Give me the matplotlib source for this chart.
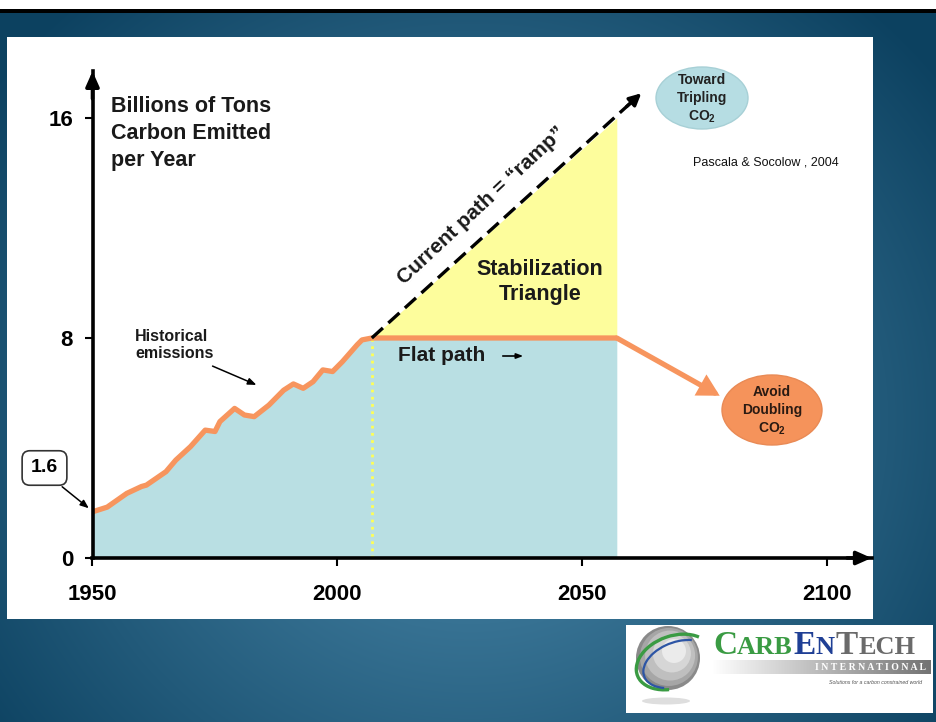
import numpy as np
import matplotlib
matplotlib.use("Agg")
import matplotlib.pyplot as plt
from matplotlib.patches import Rectangle, Ellipse, Circle, Arc

plt.rcParams['font.family'] = ['Liberation Sans', 'DejaVu Sans']
plt.rcParams['mathtext.fontset'] = 'custom'
plt.rcParams['mathtext.rm'] = 'Liberation Sans'
plt.rcParams['mathtext.bf'] = 'Liberation Sans:bold'

# historical emissions (billion tons carbon / year)
hist_years = [1950, 1953, 1955, 1957, 1960, 1961, 1965, 1967, 1970, 1973, 1975, 1976,
              1979, 1981, 1983, 1986, 1989, 1991, 1993, 1995, 1997, 1999, 2001, 2004,
              2005, 2007]
hist_vals = [1.68, 1.85, 2.1, 2.35, 2.6, 2.65, 3.14, 3.56, 4.05, 4.65, 4.6, 4.96,
             5.44, 5.2, 5.14, 5.56, 6.1, 6.33, 6.17, 6.41, 6.84, 6.78, 7.14, 7.75,
             7.93, 8.0]
flat_years = [2007, 2057]
flat_vals = [8.0, 8.0]
ramp_years = [2007, 2057]
ramp_vals = [8.0, 16.0]
ramp_tip = (2062, 16.9)
drop_tip = (2078, 5.9)
xticks = [1950, 2000, 2050, 2100]
yticks = [0, 8, 16]

TEAL = '#b9dfe3'
ORANGE = '#f7955e'
YELLOW = '#fdfd9c'

W, H = 936, 722
fig = plt.figure(figsize=(W / 100, H / 100), dpi=100)

# ---- slide background ----
bg = fig.add_axes([0, 0, 1, 1])
bg.set_xlim(0, W)
bg.set_ylim(H, 0)
bg.axis('off')
yy, xx = np.mgrid[0:H, 0:W]
d = np.sqrt(((xx - 470) / 600.0) ** 2 + ((yy - 420) / 560.0) ** 2)
t = np.clip(d, 0, 1) ** 1.1
light = np.array([0x4c, 0x8a, 0xac]) / 255.0
dark = np.array([0x0c, 0x41, 0x60]) / 255.0
img = light[None, None, :] * (1 - t[..., None]) + dark[None, None, :] * t[..., None]
bg.imshow(img, extent=(0, W, H, 0), aspect='auto', zorder=0)
bg.add_patch(Rectangle((0, 0), W, 9, fc='white', ec='none', zorder=1))
bg.add_patch(Rectangle((0, 9), W, 3.5, fc='black', ec='none', zorder=1))
bg.add_patch(Rectangle((7, 37), 866, 582, fc='white', ec='none', zorder=1))

# ---- logo ----
bg.add_patch(Rectangle((626, 625), 307, 88, fc='white', ec='none', zorder=2))
bg.add_patch(Ellipse((666, 701), 48, 7, fc='#dedede', ec='none', zorder=2.5))
for r, c in [(32, '#8a8a8a'), (29, '#a6a6a6'), (25, '#bfbfbf'), (19, '#d6d6d6'), (12, '#ebebeb')]:
    bg.add_patch(Circle((668 + (32 - r) * 0.3, 658 - (32 - r) * 0.35), r, fc=c, ec='none', zorder=3))
bg.add_patch(Arc((674, 662), 78, 52, angle=-20, theta1=120, theta2=335, color='#3a9b43', lw=2.4, zorder=4))
bg.add_patch(Arc((678, 664), 72, 44, angle=-20, theta1=140, theta2=320, color='#2d55a5', lw=1.6, zorder=4))
logo_font = ['Liberation Serif', 'DejaVu Serif']
for x, s, size, c in [(713, 'C', 24, '#3a9b43'), (737, 'ARB', 19, '#3a9b43'),
                      (793, 'E', 24, '#1f3f95'), (816, 'N', 19, '#1f3f95'),
                      (836, 'T', 24, '#6a6a6a'), (859, 'ECH', 19, '#6a6a6a')]:
    bg.text(x, 654, s, fontsize=size, fontweight='bold', color=c, family=logo_font, zorder=5)
bar = np.linspace(1, 0.45, 200)[None, :, None] * np.ones((1, 1, 3))
bg.imshow(bar, extent=(712, 931, 674, 660), aspect='auto', zorder=4)
bg.text(926, 667.5, 'I N T E R N A T I O N A L', fontsize=7, fontweight='bold', color='white',
        family=logo_font, ha='right', va='center', zorder=5)
bg.text(922, 682, 'Solutions for a carbon constrained world', fontsize=3.8, style='italic',
        color='#555555', ha='right', va='center', zorder=5)

# ---- chart ----
x0, px_yr = 92.5, 4.9
y0, px_val = 558.0, 27.5
xlim = (1950, 2109)
ylim = (0, 17.7)
left = x0 / W
bottom = (H - y0) / H
width = (xlim[1] - xlim[0]) * px_yr / W
height = (ylim[1] - ylim[0]) * px_val / H
ax = fig.add_axes([left, bottom, width, height])
ax.patch.set_alpha(0)
ax.set_xlim(*xlim)
ax.set_ylim(*ylim)

path_x = hist_years + flat_years[1:]
path_y = hist_vals + flat_vals[1:]
ax.fill_between(path_x, 0, path_y, color=TEAL, lw=0, zorder=1)
ax.fill_between(ramp_years, flat_vals, ramp_vals, color=YELLOW, lw=0, zorder=1)
ax.plot([flat_years[0]] * 2, [0, flat_vals[0]], color='#ffff55', lw=2, ls=(0, (1, 1.6)), zorder=2)
ax.plot(path_x, path_y, color=ORANGE, lw=3.8, solid_joinstyle='round', solid_capstyle='butt', zorder=3)

# ramp (dashed)
slope = (ramp_tip[1] - ramp_vals[0]) / (ramp_tip[0] - ramp_years[0])
cut = ramp_tip[0] - 2.2
ax.plot([ramp_years[0], cut], [ramp_vals[0], ramp_vals[0] + slope * (cut - ramp_years[0])],
        color='black', lw=2.4, dashes=(4.5, 2.2), zorder=4)
ax.annotate('', xy=ramp_tip, xytext=(cut - 0.8, ramp_vals[0] + slope * (cut - 0.8 - ramp_years[0])),
            arrowprops=dict(arrowstyle='-|>,head_length=0.7,head_width=0.35', color='black', lw=2.4,
                            shrinkA=0, shrinkB=0), zorder=4)
# drop to doubling
ax.annotate('', xy=drop_tip, xytext=(flat_years[1], flat_vals[1]),
            arrowprops=dict(arrowstyle='-|>,head_length=1.0,head_width=0.55', color=ORANGE, lw=3.8,
                            shrinkA=0, shrinkB=0, joinstyle='miter'), zorder=3)

# axes
for s in ['top', 'right']:
    ax.spines[s].set_visible(False)
for s in ['left', 'bottom']:
    ax.spines[s].set_linewidth(2.6)
    ax.spines[s].set_zorder(5)
ax.annotate('', xy=(1950, ylim[1]), xytext=(1950, ylim[1] - 1),
            arrowprops=dict(arrowstyle='-|>,head_length=0.9,head_width=0.4', color='black', lw=2.6,
                            shrinkA=0, shrinkB=0), annotation_clip=False, zorder=5)
ax.annotate('', xy=(xlim[1], 0), xytext=(xlim[1] - 5, 0),
            arrowprops=dict(arrowstyle='-|>,head_length=0.9,head_width=0.4', color='black', lw=2.6,
                            shrinkA=0, shrinkB=0), annotation_clip=False, zorder=5)
ax.set_xticks(xticks)
ax.set_yticks(yticks)
ax.set_xticklabels([str(v) for v in xticks], fontsize=16, fontweight='bold')
ax.set_yticklabels([str(v) for v in yticks], fontsize=16, fontweight='bold')
ax.tick_params(axis='x', length=6, width=1.5, pad=13)
ax.tick_params(axis='y', length=6, width=1.5, pad=8)

def px2data(px, py):
    return xlim[0] + (px - x0) / px_yr, (y0 - py) / px_val

# texts
ax.text(*px2data(111, 96), 'Billions of Tons\nCarbon Emitted\nper Year', fontsize=15.5,
        fontweight='bold', ha='left', va='top', linespacing=1.38, color='#1a1a1a')
ax.text(*px2data(135, 345), 'Historical\nemissions', fontsize=11.5, fontweight='bold',
        ha='left', va='center', linespacing=1.2, color='#1a1a1a')
ax.annotate('', xy=px2data(259, 386), xytext=px2data(210, 365),
            arrowprops=dict(arrowstyle='-|>,head_length=0.5,head_width=0.2', color='black', lw=1.1))
ax.text(*px2data(44.5, 468), '1.6', fontsize=14, fontweight='bold', ha='center', va='center',
        bbox=dict(boxstyle='round,pad=0.45,rounding_size=0.4', fc='white', ec='#333333', lw=1.2),
        clip_on=False, zorder=6)
ax.annotate('', xy=px2data(91, 510), xytext=px2data(60, 485),
            arrowprops=dict(arrowstyle='-|>,head_length=0.5,head_width=0.2', color='black', lw=1.1),
            annotation_clip=False)
ax.text(*px2data(540, 282), 'Stabilization\nTriangle', fontsize=15.5, fontweight='bold',
        ha='center', va='center', linespacing=1.2, color='#1a1a1a', zorder=6)
ax.text(*px2data(398, 356), 'Flat path', fontsize=15, fontweight='bold',
        ha='left', va='center', color='#1a1a1a', zorder=6)
ax.annotate('', xy=px2data(526, 356), xytext=px2data(500, 356),
            arrowprops=dict(arrowstyle='-|>,head_length=0.4,head_width=0.15', color='black', lw=1.2),
            zorder=6)
ax.text(*px2data(481, 206), 'Current path = \u201cramp\u201d', fontsize=15, fontweight='bold',
        ha='center', va='center', rotation=43, rotation_mode='anchor', color='#1a1a1a', zorder=6)
ax.text(*px2data(766, 163), 'Pascala & Socolow , 2004', fontsize=9, ha='center', va='center',
        color='#111111')

# end-point ellipses
ax.add_patch(Ellipse(px2data(702, 98), 92 / px_yr, 62 / px_val, fc='#b6dde3', ec='#a7d0d6', lw=1,
                     zorder=6, clip_on=False))
for py, s in [(80, 'Toward'), (98, 'Tripling'), (117, r'$\mathbf{CO_2}$')]:
    ax.text(*px2data(702, py), s, fontsize=10, fontweight='bold', ha='center', va='center',
            color='#222222', zorder=7, clip_on=False)
ax.add_patch(Ellipse(px2data(772, 410), 100 / px_yr, 70 / px_val, fc='#f5935b', ec='#e98a55', lw=1,
                     zorder=6))
for py, s in [(392, 'Avoid'), (410, 'Doubling'), (429, r'$\mathbf{CO_2}$')]:
    ax.text(*px2data(772, py), s, fontsize=10, fontweight='bold', ha='center', va='center',
            color='#2a1a12', zorder=7)

fig.savefig('out.png', dpi=100)
